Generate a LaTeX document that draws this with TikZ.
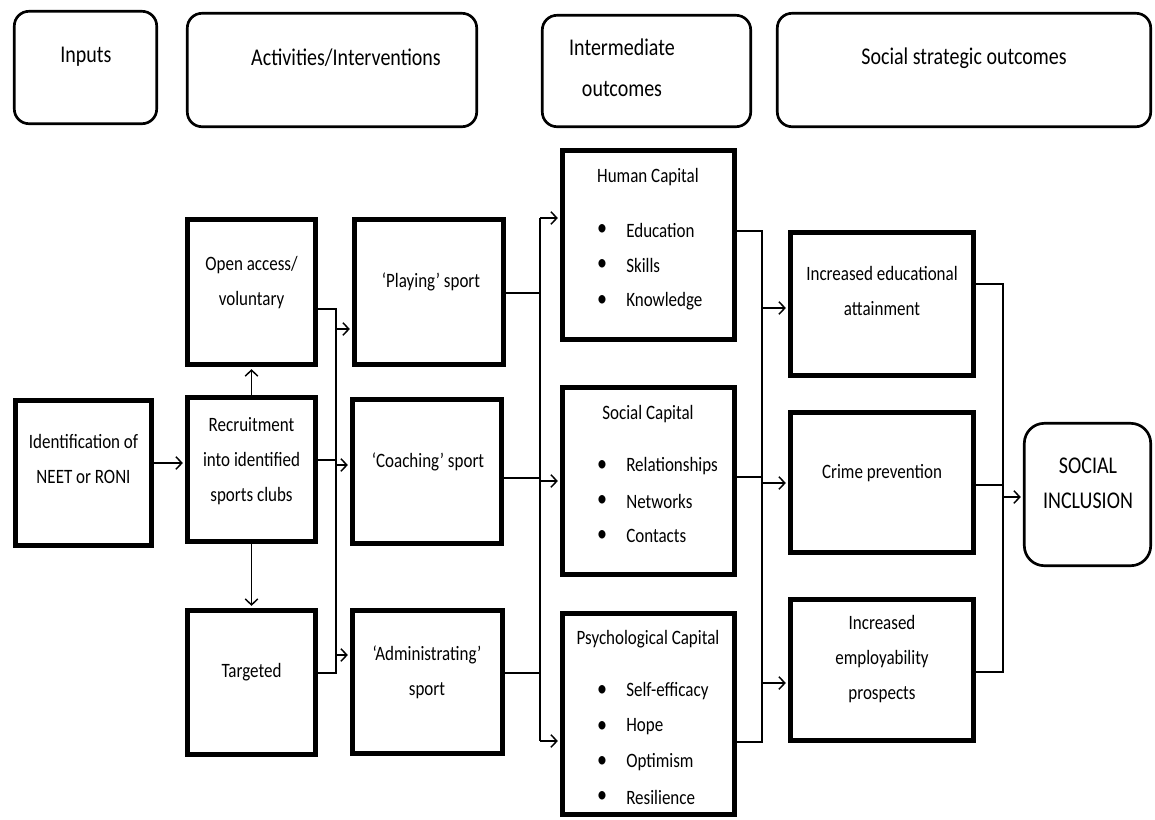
\documentclass[tikz,border=0pt]{standalone}
\usepackage{fontspec}
\setmainfont{Carlito}
\usetikzlibrary{arrows.meta,fit}
\newcommand{\tx}[1]{\scalebox{1}[1.2]{\begin{tabular}{@{}c@{}}#1\end{tabular}}}
\newcommand{\txl}[1]{\scalebox{1}[1.2]{#1}}
\begin{document}
\begin{tikzpicture}[x=0.75pt,y=-0.75pt,
  box/.style={draw,line width=3.6pt,inner sep=0pt},
  hdr/.style={draw,line width=2pt,rounded corners=11pt,inner sep=0pt},
  txt/.style={inner sep=0pt,font=\fontsize{12.75}{21.875}\selectfont},
  htxt/.style={inner sep=0pt,font=\fontsize{15}{25.6}\selectfont},
  btxt/.style={inner sep=0pt,font=\fontsize{12.75}{21.875}\selectfont,anchor=west},
  bul/.style={inner sep=0pt,font=\fontsize{15}{16}\selectfont},
  conn/.style={line width=1.1pt},
  arr/.style={conn,-{Straight Barb[length=4.5pt,width=9.5pt]},shorten >=1.6pt}]
\useasboundingbox[fill=white] (0,0) rectangle (1155,819);

% header boxes
\node[hdr,fit={(14.3,11.3) (156.7,123.7)}] (hin) {};
\node[hdr,fit={(187.3,13.3) (476.7,126.7)}] (hact) {};
\node[hdr,fit={(542.3,15.3) (750.7,126.7)}] (hint) {};
\node[hdr,fit={(777.3,13.3) (1150.7,126.7)}] (hsso) {};
\node[htxt] (hint1) at (86,57) {\txl{Inputs}};
\node[htxt] (hact1) at (346,58) {\txl{Activities/Interventions}};
\node[htxt] (hint2) at (622,67.5) {\tx{Intermediate\\outcomes}};
\node[htxt] (hsso1) at (964,58) {\txl{Social strategic outcomes}};

% main boxes
\node[box,fit={(15.4,400.4) (151.6,545.6)}] (id) {};
\node[box,fit={(187.4,219.4) (315.6,364.6)}] (oa) {};
\node[box,fit={(187.4,397.4) (315.6,541.6)}] (rec) {};
\node[box,fit={(187.4,610.4) (315.6,754.6)}] (tg) {};
\node[box,fit={(354.4,219.4) (503.6,364.6)}] (pl) {};
\node[box,fit={(352.4,399.4) (501.6,543.6)}] (co) {};
\node[box,fit={(352.4,610.4) (502.6,753.6)}] (ad) {};
\node[box,fit={(562.4,150.4) (734.6,339.6)}] (hc) {};
\node[box,fit={(562.4,387.4) (734.6,574.6)}] (sc) {};
\node[box,fit={(562.4,613.4) (734.6,814.6)}] (pc) {};
\node[box,fit={(790.4,232.4) (973.6,375.6)}] (ed) {};
\node[box,fit={(790.4,412.4) (973.6,552.6)}] (cr) {};
\node[box,fit={(790.4,599.4) (973.6,740.6)}] (em) {};
\node[hdr,rounded corners=15pt,fit={(1024.3,423.3) (1150.7,565.7)}] (si) {};

% texts
\node[txt] (idt) at (83.5,458.5) {\tx{Identification of\\NEET or RONI}};
\node[txt] (oat) at (251.5,280.5) {\tx{Open access/\\voluntary}};
\node[txt] (rect) at (251.5,459.5) {\tx{Recruitment\\into identified\\sports clubs}};
\node[txt] (tgt) at (251.5,670) {\tx{Targeted}};
\node[txt] (plt) at (431,280) {\tx{‘Playing’ sport}};
\node[txt] (cot) at (428,460) {\tx{‘Coaching’ sport}};
\node[txt] (adt) at (427,670.5) {\tx{‘Administrating’\\sport}};
\node[txt] (edt) at (882,291) {\tx{Increased educational\\attainment}};
\node[txt] (crt) at (882,471) {\tx{Crime prevention}};
\node[txt] (emt) at (882,657.5) {\tx{Increased\\employability\\prospects}};
\node[htxt] (sit) at (1088,484) {\scalebox{1}[1.2]{\fontsize{15}{21.875}\selectfont\begin{tabular}{@{}c@{}}SOCIAL\\INCLUSION\end{tabular}}};

% capital boxes
\node[txt] (hct) at (648,175) {\tx{Human Capital}};
\node[bul] (hb1) at (602,230) {\txl{•}};
\node[bul] (hb2) at (602,265) {\txl{•}};
\node[bul] (hb3) at (602,301) {\txl{•}};
\node[btxt] (hl1) at (626,230) {\txl{Education}};
\node[btxt] (hl2) at (626,265) {\txl{Skills}};
\node[btxt] (hl3) at (626,301) {\txl{Knowledge}};

\node[txt] (sct) at (648,412) {\tx{Social Capital}};
\node[bul] (sb1) at (602,466) {\txl{•}};
\node[bul] (sb2) at (602,501) {\txl{•}};
\node[bul] (sb3) at (602,536) {\txl{•}};
\node[btxt] (sl1) at (626,466) {\txl{Relationships}};
\node[btxt] (sl2) at (626,501) {\txl{Networks}};
\node[btxt] (sl3) at (626,536) {\txl{Contacts}};

\node[txt] (pct) at (648,637) {\tx{Psychological Capital}};
\node[bul] (pb1) at (602,691) {\txl{•}};
\node[bul] (pb2) at (602,727) {\txl{•}};
\node[bul] (pb3) at (602,762) {\txl{•}};
\node[bul] (pb4) at (602,797) {\txl{•}};
\node[btxt] (pl1) at (626,691) {\txl{Self-efficacy}};
\node[btxt] (pl2) at (626,727) {\txl{Hope}};
\node[btxt] (pl3) at (626,762) {\txl{Optimism}};
\node[btxt] (pl4) at (626,797) {\txl{Resilience}};

% bus coordinates
\coordinate (b1) at (336,0);
\coordinate (b2) at (540,0);
\coordinate (b3) at (762,0);
\coordinate (b4) at (1003,0);

% connectors column 1-2
\draw[arr] (id.east |- 0,463) -- (rec.west |- 0,463);
\draw[arr] (rec.north) -- (oa.south);
\draw[arr] (rec.south) -- (tg.north);

% bus 1
\draw[conn] (oa.east |- 0,309) -| (b1 |- 0,673) -- (tg.east |- 0,673);
\draw[conn] (rec.east |- 0,460) -- (b1 |- 0,460);
\draw[arr] (b1 |- 0,329) -- (pl.west |- 0,329);
\draw[arr] (b1 |- 0,465) -- (co.west |- 0,465);
\draw[arr] (b1 |- 0,655) -- (ad.west |- 0,655);

% bus 2
\draw[conn] (b2 |- 0,218) -- (b2 |- 0,741);
\draw[conn] (pl.east |- 0,293) -- (b2 |- 0,293);
\draw[conn] (co.east |- 0,478) -- (b2 |- 0,478);
\draw[conn] (ad.east |- 0,673) -- (b2 |- 0,673);
\draw[arr] (b2 |- 0,218) -- (hc.west |- 0,218);
\draw[arr] (b2 |- 0,481) -- (sc.west |- 0,481);
\draw[arr] (b2 |- 0,741) -- (pc.west |- 0,741);

% bus 3
\draw[conn] (hc.east |- 0,231) -| (b3 |- 0,742) -- (pc.east |- 0,742);
\draw[conn] (sc.east |- 0,477) -- (b3 |- 0,477);
\draw[arr] (b3 |- 0,308) -- (ed.west |- 0,308);
\draw[arr] (b3 |- 0,483) -- (cr.west |- 0,483);
\draw[arr] (b3 |- 0,683) -- (em.west |- 0,683);

% bus 4
\draw[conn] (ed.east |- 0,284) -| (b4 |- 0,672) -- (em.east |- 0,672);
\draw[conn] (cr.east |- 0,485) -- (b4 |- 0,485);
\draw[arr] (b4 |- 0,497) -- (si.west |- 0,497);
\end{tikzpicture}
\end{document}
